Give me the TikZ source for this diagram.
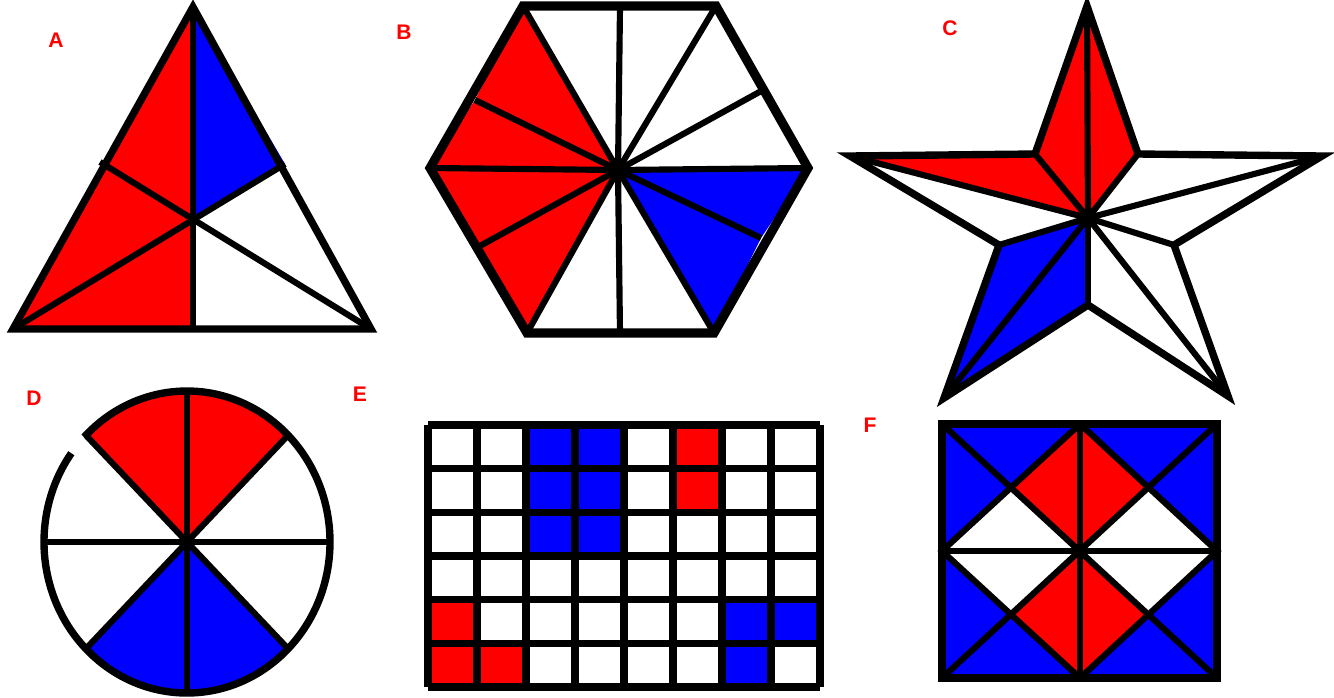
\documentclass[tikz,border=0pt]{standalone}
\usepackage{fontspec}
\setsansfont{Liberation Sans}
\begin{document}
\begin{tikzpicture}[x=0.02cm,y=-0.02cm,
    spoke/.style={line width=3.5pt},
    rim/.style={line width=4.2pt},
    tag/.style={text=red,font=\sffamily\bfseries\fontsize{12}{14}\selectfont}]
    \useasboundingbox (0,0) rectangle (1334,697);

    % A
    \coordinate (At) at (193,7);
    \coordinate (Al) at (13,329);
    \coordinate (Ar) at (371,329);
    \coordinate (Am) at (193,332);
    \coordinate (Ap) at (100,162);
    \coordinate (Aq) at (285,164);
    \coordinate (Ac) at (193,221);
    \fill[red] (At) -- (Am) -- (Al) -- cycle;
    \fill[blue] (At) -- (Ac) -- (Aq) -- cycle;
    \draw[spoke] (At) -- (Am);
    \draw[spoke] (Ap) -- (Ar);
    \draw[spoke] (Aq) -- (Al);
    \draw[rim] (At) -- (Al) -- (Ar) -- cycle;
    \node[tag] (labA) at (56,40) {A};

    % B
    \coordinate (Bc) at (618,170);
    \coordinate (B1) at (523,6);
    \coordinate (B2) at (620,6);
    \coordinate (B3) at (716,6);
    \coordinate (B4) at (763,90);
    \coordinate (B5) at (808,168);
    \coordinate (B6) at (761,238);
    \coordinate (B7) at (714,333);
    \coordinate (B8) at (620,334);
    \coordinate (B9) at (527,333);
    \coordinate (B10) at (478,247);
    \coordinate (B11) at (430,168);
    \coordinate (B12) at (475,100);
    \fill[red] (B1) -- (B12) -- (B11) -- (B10) -- (B9) -- (Bc) -- cycle;
    \fill[blue] (B5) -- (B6) -- (B7) -- (Bc) -- cycle;
    \foreach \i in {1,...,12}
        \draw[spoke] (Bc) -- (B\i);
    \draw[rim,line width=5.2pt] (B1) -- (B3) -- (B5) -- (B7) -- (B9) -- (B11) -- cycle;
    \node[tag] (labB) at (404,32) {B};

    % C
    \coordinate (Cc) at (1088,218);
    \coordinate (C1) at (1087,6);
    \coordinate (C2) at (1138,154);
    \coordinate (C3) at (1322,156);
    \coordinate (C4) at (1174,245);
    \coordinate (C5) at (1228,396);
    \coordinate (C6) at (1088,305);
    \coordinate (C7) at (944,398);
    \coordinate (C8) at (999,245);
    \coordinate (C9) at (850,156);
    \coordinate (C10) at (1035,154);
    \fill[red] (C9) -- (C10) -- (C1) -- (C2) -- (Cc) -- cycle;
    \fill[blue] (C8) -- (C7) -- (C6) -- (Cc) -- cycle;
    \foreach \i in {1,...,10}
        \draw[spoke] (Cc) -- (C\i);
    \draw[rim] (C1) -- (C2) -- (C3) -- (C4) -- (C5) -- (C6) -- (C7) -- (C8) -- (C9) -- (C10) -- cycle;
    \node[tag] (labC) at (950,28) {C};

    % D
    \coordinate (Dc) at (187,542);
    \foreach \a [count=\i] in {0,45,...,315}
        \path (Dc) ++(\a:143 and 151) coordinate (D\i);
    \fill[red] (Dc) -- (D6) arc[start angle=225,end angle=315,x radius=143,y radius=151] -- cycle;
    \fill[blue] (Dc) -- (D2) arc[start angle=45,end angle=135,x radius=143,y radius=151] -- cycle;
    \draw[spoke] (D1) -- (D5);
    \draw[spoke] (D3) -- (D7);
    \draw[spoke] (D2) -- (D6);
    \draw[spoke] (D4) -- (D8);
    \draw[rim] (Dc) ++(224:143 and 151) arc[start angle=224,end angle=576,x radius=143,y radius=151];
    \node[tag] (labD) at (34,398) {D};

    % E
    \foreach \c/\r in {3/1,4/1,3/2,4/2,3/3,4/3,7/5,8/5,7/6}
        \fill[blue] ({428+49*(\c-1)},{425+43.67*(\r-1)}) rectangle ++(49,43.67);
    \foreach \c/\r in {6/1,6/2,1/5,1/6,2/6}
        \fill[red] ({428+49*(\c-1)},{425+43.67*(\r-1)}) rectangle ++(49,43.67);
    \foreach \c in {0,...,8}
        \draw[rim] ({428+49*\c},425) -- ({428+49*\c},687);
    \foreach \r in {0,...,6}
        \draw[rim] (428,{425+43.67*\r}) -- (820,{425+43.67*\r});
    \node[tag] (labE) at (360,394) {E};

    % F
    \coordinate (Fa) at (942,424);
    \coordinate (Fb) at (1217,424);
    \coordinate (Fc) at (1217,678);
    \coordinate (Fd) at (942,678);
    \coordinate (Fo) at (1080,551);
    \coordinate (Ft) at (1080,424);
    \coordinate (Fr) at (1217,551);
    \coordinate (Fs) at (1080,678);
    \coordinate (Fl) at (942,551);
    \fill[blue] (Fa) rectangle (Fc);
    \fill[red] (Ft) -- (Fr) -- (Fs) -- (Fl) -- cycle;
    \fill[white] (Fl) -- (1011,488) -- (Fo) -- (1011,615) -- cycle;
    \fill[white] (Fr) -- (1149,488) -- (Fo) -- (1149,615) -- cycle;
    \draw[spoke] (Fa) -- (Fc);
    \draw[spoke] (Fb) -- (Fd);
    \draw[spoke] (Ft) -- (Fs);
    \draw[spoke] (Fl) -- (Fr);
    \draw[spoke] (Ft) -- (Fr) -- (Fs) -- (Fl) -- cycle;
    \draw[rim,line width=5pt] (Fa) rectangle (Fc);
    \node[tag] (labF) at (870,425) {F};
\end{tikzpicture}
\end{document}
